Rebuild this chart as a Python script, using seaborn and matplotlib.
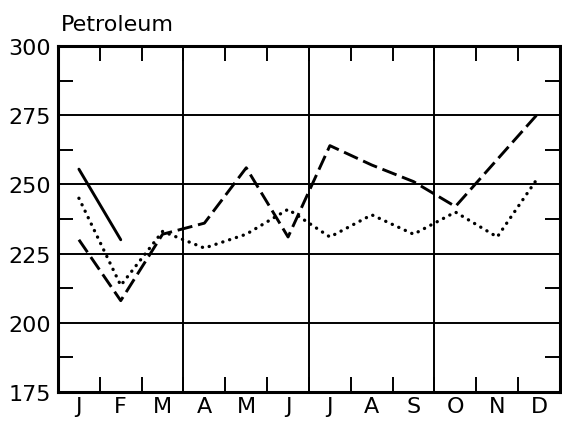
import numpy as np
import pandas as pd
import matplotlib
matplotlib.use("Agg")
import matplotlib.pyplot as plt
import seaborn as sns

months = ["J", "F", "M", "A", "M", "J", "J", "A", "S", "O", "N", "D"]
solid_vals = [255.5, 230.0] + [np.nan] * 10
dashed_vals = [230, 208, 232, 236, 256, 231, 264, 257, 251, 242, 259, 276]
dotted_vals = [245, 213.5, 233, 227, 232, 241, 231, 239, 232, 240, 231, 253]
y_ticks = [175, 200, 225, 250, 275, 300]

sns.set_theme(style="white")
plt.rcParams['font.family'] = ['DejaVu Sans']

x = np.arange(len(months)) + 0.5
df = pd.DataFrame({"x": x, "solid": solid_vals, "dashed": dashed_vals, "dotted": dotted_vals})

fig = plt.figure(figsize=(5.62, 4.27), dpi=100)
ax = fig.add_axes([0.1032, 0.0796, 0.8932, 0.8104])

lw = 2.1
sns.lineplot(data=df, x="x", y="solid", ax=ax, color="black", linewidth=lw)
sns.lineplot(data=df, x="x", y="dashed", ax=ax, color="black", linewidth=lw)
ax.lines[-1].set_dashes([5.2, 2.0])
sns.lineplot(data=df, x="x", y="dotted", ax=ax, color="black", linewidth=lw + 0.3)
ax.lines[-1].set_dashes([0.05, 2.1])
ax.lines[-1].set_dash_capstyle("round")

ax.set_xlim(0, 12)
ax.set_ylim(175, 300)

for yv in y_ticks[1:-1]:
    ax.axhline(yv, color="black", linewidth=1.4, zorder=0)
for xv in [3, 6, 9]:
    ax.axvline(xv, color="black", linewidth=1.4, zorder=0)

ax.set_xticks(x)
ax.set_xticklabels(months)
ax.set_yticks(y_ticks)
ax.tick_params(axis="both", which="major", length=0, labelsize=16, colors="black", pad=5)
ax.tick_params(axis="x", pad=3)

ax.set_xticks(np.arange(1, 12), minor=True)
ax.set_yticks(np.arange(187.5, 300, 25), minor=True)
ax.tick_params(axis="both", which="minor", direction="in", length=11, width=1.4,
               top=True, bottom=True, left=True, right=True, color="black")

for s in ax.spines.values():
    s.set_color("black")
    s.set_linewidth(2.2)
    s.set_visible(True)

ax.set_xlabel("")
ax.set_ylabel("")
ax.text(0.005, 1.035, "Petroleum", transform=ax.transAxes, fontsize=16, ha="left", va="bottom", color="black")

fig.savefig("out.png", dpi=100, facecolor="white")
